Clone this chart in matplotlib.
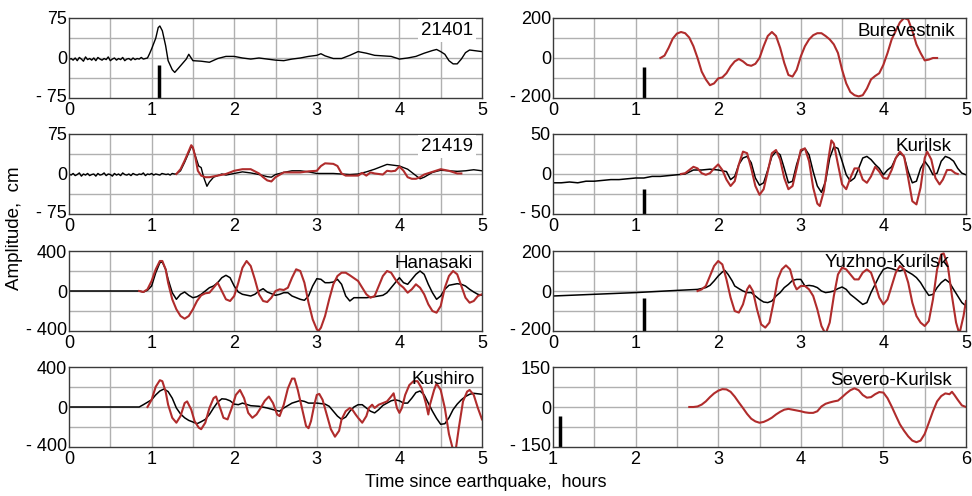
import numpy as np
import matplotlib
matplotlib.use("Agg")
import matplotlib.pyplot as plt

plt.rcParams['font.family'] = ['Liberation Sans', 'DejaVu Sans']

RED = '#b02c2c'

# ---- 21401 (observed only)
t_21401_noise = np.arange(0, 0.951, 0.025)
v_21401_noise = [-3, -1, -4, 0, -5, 1, -2, -6, 2, -3, -1, -4, 0, -5, 1, -2, -4, -1, -3, 2,
                 -5, -2, 0, -4, -1, -3, 1, -5, -2, -1, -4, 0, -3, -1, -2, 1, -2, -1, 0]
t_21401 = [0.975, 1.0, 1.05, 1.08, 1.1, 1.13, 1.17, 1.2, 1.25, 1.28, 1.32, 1.37, 1.42, 1.45,
           1.5, 1.6, 1.7, 1.8, 1.9, 2.0, 2.1, 2.2, 2.3, 2.4, 2.5, 2.6, 2.7, 2.8, 2.9, 3.0,
           3.05, 3.1, 3.2, 3.3, 3.4, 3.5, 3.6, 3.7, 3.8, 3.9, 4.0, 4.1, 4.2, 4.3, 4.4, 4.45,
           4.5, 4.55, 4.6, 4.65, 4.7, 4.75, 4.8, 4.85, 4.9, 5.0]
v_21401 = [8, 17, 37, 57, 60, 51, 23, -5, -22, -27, -20, -11, -2, 7,
           -5, -6, -8, -1, 3, 3, 0, -2, 0, -2, -4, -5, -2, 0, 3, 5,
           8, 4, -1, -1, 5, 12, 9, 5, 4, 3, -2, 0, 3, 9, 14, 16,
           12, 7, -5, -11, -11, -2, 10, 15, 14, 12]

# ---- 21419
t_21419_noise = np.arange(0, 1.301, 0.025)
v_21419_noise = [0, -2, 1, -3, -1, 2, -4, 0, -2, 1, -3, -1, 0, -4, 1, -2, -1, 2, -3, 0,
                 -1, -4, 1, -2, 0, -3, 2, -1, -2, 0, -3, 1, -1, -2, 0, -1, 2, -3, 0, -1,
                 1, -2, 0, -1, -2, 1, 0, -1, 0, -2, 1, 0, 0]
t_21419_obs = [1.35, 1.4, 1.45, 1.48, 1.5, 1.53, 1.57, 1.6, 1.63, 1.67, 1.7, 1.75, 1.8, 1.85,
               1.9, 2.0, 2.1, 2.2, 2.3, 2.4, 2.45, 2.5, 2.6, 2.7, 2.8, 2.9, 3.0, 3.1, 3.2,
               3.3, 3.4, 3.5, 3.6, 3.7, 3.8, 3.85, 3.9, 4.0, 4.1, 4.2, 4.25, 4.3, 4.4, 4.5,
               4.6, 4.7, 4.8, 4.9, 5.0]
v_21419_obs = [6, 22, 40, 51, 49, 34, 15, 12, -6, -23, -15, -6, -3, 0,
               -2, 1, 4, 2, -1, -5, -6, -1, 3, 6, 6, 4, 1, 1, 1,
               0, -1, 0, 4, 9, 15, 18, 17, 15, 9, -3, -9, -6, 3, 7,
               6, 5, 6, 8, 6]
t_21419_mod = [1.3, 1.35, 1.4, 1.45, 1.48, 1.5, 1.53, 1.56, 1.6, 1.65, 1.7, 1.8, 1.9, 2.0,
               2.1, 2.2, 2.3, 2.35, 2.4, 2.45, 2.5, 2.6, 2.7, 2.8, 2.9, 3.0, 3.05, 3.1,
               3.2, 3.25, 3.3, 3.35, 3.4, 3.5, 3.55, 3.6, 3.65, 3.7, 3.8, 3.85, 3.9, 3.95,
               4.0, 4.05, 4.1, 4.15, 4.2, 4.25, 4.3, 4.4, 4.5, 4.6, 4.7, 4.75]
v_21419_mod = [0, 9, 25, 43, 54, 50, 31, 6, -3, -6, -6, -3, 0, 6,
               9, 9, 1, -6, -12, -14, -6, 3, 3, 3, 5, 6, 15, 20,
               19, 15, 1, -3, -3, -3, 2, -3, 3, 1, -1, 6, 5, 6,
               14, 6, -6, -9, -9, -6, -1, 4, 9, 6, 1, 1]

# ---- Hanasaki
t_han_obs = [0, 0.85, 0.9, 0.95, 1.0, 1.05, 1.1, 1.13, 1.17, 1.2, 1.25, 1.3, 1.35, 1.4, 1.45,
             1.5, 1.55, 1.6, 1.7, 1.75, 1.8, 1.85, 1.9, 1.95, 2.0, 2.05, 2.1, 2.2, 2.25, 2.3,
             2.35, 2.4, 2.5, 2.55, 2.6, 2.65, 2.7, 2.8, 2.85, 2.9, 2.95, 3.0, 3.05, 3.1,
             3.15, 3.2, 3.25, 3.3, 3.35, 3.4, 3.45, 3.5, 3.6, 3.7, 3.8, 3.85, 3.9, 3.95,
             4.0, 4.05, 4.1, 4.15, 4.2, 4.25, 4.3, 4.35, 4.4, 4.45, 4.5, 4.55, 4.6, 4.7,
             4.75, 4.8, 4.85, 4.9, 4.95, 5.0]
v_han_obs = [0, 0, -10, 7, 50, 183, 283, 290, 217, 117, -17, -83, -33, -10, -43,
             -67, -57, -33, 33, 50, 83, 133, 157, 133, 50, -10, -33, -50, -33, 0,
             23, -10, -43, -33, -17, -17, -50, -83, -93, -50, 50, 123, 117, 83,
             83, 90, 117, 67, -50, -100, -67, -67, -67, -57, -43, -17, 33, 83,
             133, 83, 67, 117, 167, 200, 167, 67, -17, -83, -50, 17, 57, 73,
             67, 50, 17, -10, -33, -43]
t_han_mod = [0.85, 0.9, 0.95, 1.0, 1.05, 1.1, 1.13, 1.17, 1.2, 1.25, 1.3, 1.35, 1.4, 1.45,
             1.5, 1.55, 1.6, 1.65, 1.7, 1.75, 1.8, 1.85, 1.9, 1.95, 2.0, 2.05, 2.1, 2.15,
             2.2, 2.25, 2.3, 2.35, 2.4, 2.45, 2.5, 2.55, 2.6, 2.65, 2.7, 2.75, 2.8, 2.85,
             2.9, 2.95, 3.0, 3.02, 3.05, 3.1, 3.15, 3.2, 3.25, 3.3, 3.35, 3.4, 3.5, 3.55,
             3.6, 3.65, 3.7, 3.75, 3.8, 3.85, 3.9, 3.95, 4.0, 4.05, 4.1, 4.15, 4.2, 4.25,
             4.3, 4.35, 4.4, 4.45, 4.5, 4.55, 4.6, 4.65, 4.7, 4.75, 4.8, 4.85, 4.9, 4.95, 5.0]
v_han_mod = [0, -10, 17, 100, 217, 300, 300, 217, 83, -83, -183, -250, -277, -250,
             -183, -100, -43, -23, -17, 33, 83, 0, -83, -100, -50, 83, 233, 300,
             250, 117, -33, -100, -110, -67, 0, 17, 10, 33, 133, 217, 200, 83,
             -117, -283, -383, -400, -367, -250, -83, 67, 150, 183, 183, 157, 100, 33,
             -33, -67, -50, 50, 150, 200, 183, 117, 67, 33, -17, 17, 67, 33,
             -33, -133, -200, -217, -150, 33, 150, 200, 167, 50, -67, -117, -100, -50, -33]

# ---- Kushiro
t_kus_obs = [0, 0.85, 0.9, 1.0, 1.05, 1.1, 1.15, 1.2, 1.25, 1.3, 1.35, 1.4, 1.45, 1.5, 1.55,
             1.6, 1.65, 1.7, 1.75, 1.8, 1.85, 1.9, 1.95, 2.0, 2.05, 2.1, 2.2, 2.3, 2.4, 2.5,
             2.55, 2.6, 2.7, 2.8, 2.85, 2.9, 3.0, 3.1, 3.15, 3.2, 3.25, 3.3, 3.35, 3.4,
             3.45, 3.5, 3.55, 3.6, 3.65, 3.7, 3.75, 3.8, 3.85, 3.9, 3.95, 4.0, 4.05, 4.1,
             4.15, 4.2, 4.25, 4.3, 4.35, 4.4, 4.45, 4.5, 4.55, 4.6, 4.65, 4.7, 4.75, 4.8,
             4.85, 4.9, 5.0]
v_kus_obs = [0, 0, 23, 72, 121, 160, 180, 154, 88, -10, -69, -108, -134, -150, -167,
             -147, -124, -75, -10, 49, 82, 78, 62, 29, 23, 39, 13, 7, -10, -33,
             -42, -10, 39, 65, 56, 39, 39, 29, 7, -42, -91, -124, -101, -42,
             0, 23, 23, -10, -42, -59, -26, 16, 39, 62, 72, 62, 39, 39,
             88, 144, 160, 121, 39, -42, -114, -173, -167, -108, -26, 29, 72, 105,
             127, 137, 127]
t_kus_mod = [0.95, 1.0, 1.05, 1.1, 1.13, 1.17, 1.2, 1.25, 1.3, 1.35, 1.4, 1.43, 1.48, 1.52,
             1.57, 1.6, 1.65, 1.7, 1.75, 1.78, 1.83, 1.87, 1.92, 1.97, 2.02, 2.07, 2.12,
             2.17, 2.22, 2.27, 2.32, 2.37, 2.42, 2.47, 2.52, 2.55, 2.6, 2.65, 2.7, 2.73,
             2.77, 2.82, 2.87, 2.9, 2.93, 2.97, 3.0, 3.03, 3.07, 3.12, 3.17, 3.22, 3.27,
             3.3, 3.35, 3.4, 3.43, 3.47, 3.5, 3.55, 3.6, 3.63, 3.67, 3.7, 3.75, 3.8, 3.85,
             3.9, 3.93, 3.97, 4.0, 4.03, 4.07, 4.12, 4.17, 4.22, 4.27, 4.32, 4.35, 4.37,
             4.42, 4.45, 4.5, 4.55, 4.6, 4.65, 4.68, 4.72, 4.77, 4.82, 4.85, 4.9, 4.95, 5.0]
v_kus_mod = [0, 72, 203, 268, 258, 154, 23, -108, -157, -91, 39, 56, -26, -141,
             -206, -222, -157, -10, 88, 105, -10, -108, -124, -10, 121, 170, 88,
             -59, -108, -75, -10, 62, 105, 39, -75, -91, 23, 186, 284, 284,
             170, -10, -190, -212, -141, 23, 121, 131, 72, -75, -222, -297, -238,
             -124, -42, -10, -26, -75, -108, -157, -91, -10, 23, -10, 23, 39, 56,
             105, 137, -10, -59, -10, 121, 219, 258, 258, 186, 39, -75, 23,
             170, 235, 170, -10, -271, -430, -440, -206, 56, 154, 170, 121, -10, -124]

# ---- Burevestnik (model only)
t_bur = [1.3, 1.35, 1.4, 1.45, 1.5, 1.55, 1.6, 1.65, 1.7, 1.75, 1.8, 1.85, 1.9, 1.95, 2.0,
         2.05, 2.1, 2.15, 2.2, 2.25, 2.3, 2.35, 2.4, 2.45, 2.5, 2.55, 2.6, 2.65, 2.7, 2.75,
         2.8, 2.85, 2.9, 2.95, 3.0, 3.05, 3.1, 3.15, 3.2, 3.25, 3.3, 3.35, 3.4, 3.45, 3.5,
         3.55, 3.6, 3.65, 3.7, 3.75, 3.8, 3.85, 3.9, 3.95, 4.0, 4.05, 4.1, 4.15, 4.2, 4.25,
         4.3, 4.35, 4.4, 4.45, 4.5, 4.55, 4.6, 4.65]
v_bur = [0, 12, 51, 97, 122, 130, 124, 102, 59, 0, -68, -107, -136, -127, -102,
         -97, -76, -42, -17, -5, -17, -34, -39, -29, 0, 59, 110, 130, 110, 51,
         -25, -85, -93, -59, 8, 59, 93, 114, 124, 124, 110, 93, 68, 25, -59,
         -127, -170, -186, -192, -186, -153, -107, -90, -76, -34, 25, 93, 136, 178, 200,
         192, 136, 68, 25, -12, -8, 0, 0]

# ---- Kurilsk
t_kur_obs = [0, 0.1, 0.2, 0.3, 0.4, 0.5, 0.6, 0.7, 0.8, 0.9, 1.0, 1.1, 1.2, 1.3, 1.4, 1.5,
             1.6, 1.7, 1.8, 1.9, 2.0, 2.1, 2.15, 2.2, 2.25, 2.3, 2.35, 2.4, 2.45, 2.5, 2.55,
             2.6, 2.65, 2.7, 2.75, 2.8, 2.85, 2.9, 2.95, 3.0, 3.05, 3.1, 3.15, 3.2, 3.25,
             3.3, 3.35, 3.4, 3.45, 3.5, 3.55, 3.6, 3.65, 3.7, 3.75, 3.8, 3.85, 3.9, 3.95,
             4.0, 4.05, 4.1, 4.15, 4.2, 4.25, 4.3, 4.35, 4.4, 4.45, 4.5, 4.55, 4.6, 4.65,
             4.7, 4.75, 4.8, 4.85, 4.9, 4.95, 5.0]
v_kur_obs = [-11, -11, -10, -11, -9, -9, -8, -7, -7, -6, -5, -5, -3, -3, -2, -1,
             0, 5, 5, 6, 5, 3, -7, -3, 12, 20, 22, 14, -5, -14, -11,
             5, 22, 28, 24, 7, -11, -9, 12, 28, 32, 24, 3, -15, -23,
             -9, 20, 34, 32, 16, -1, -9, -5, 7, 20, 22, 18, 12, 7,
             -1, 5, 9, 20, 26, 22, 3, -11, -9, 7, 16, 9, -1, 1,
             16, 22, 20, 16, 7, 1, -1]
t_kur_mod = [1.55, 1.6, 1.65, 1.7, 1.75, 1.8, 1.85, 1.9, 1.95, 2.0, 2.05, 2.1, 2.15, 2.2,
             2.25, 2.3, 2.35, 2.4, 2.45, 2.5, 2.55, 2.6, 2.65, 2.7, 2.75, 2.8, 2.85, 2.9,
             2.95, 3.0, 3.05, 3.1, 3.15, 3.2, 3.23, 3.28, 3.33, 3.37, 3.4, 3.45, 3.5, 3.55,
             3.6, 3.65, 3.7, 3.75, 3.8, 3.85, 3.9, 3.95, 4.0, 4.05, 4.1, 4.15, 4.2, 4.25,
             4.3, 4.35, 4.4, 4.45, 4.5, 4.53, 4.58, 4.63, 4.68, 4.72, 4.77, 4.82, 4.87, 4.9]
v_kur_mod = [0, 1, 5, 9, 7, 1, -1, 1, 7, 12, 5, -7, -15, -9,
             12, 28, 26, 7, -15, -26, -19, 3, 26, 30, 18, -5, -19, -15,
             7, 30, 32, 16, -17, -37, -40, -21, 16, 42, 38, 12, -13, -19,
             -5, 7, 7, -7, -11, -3, 9, 3, -5, -6, 5, 20, 28, 22,
             -5, -34, -38, -17, 20, 28, 18, -5, -13, -7, 5, 5, 1, 0]

# ---- Yuzhno-Kurilsk
t_yuz_obs = [0, 1.0, 1.5, 1.75, 1.85, 1.9, 1.95, 2.0, 2.05, 2.08, 2.12, 2.17, 2.2, 2.25, 2.3,
             2.35, 2.4, 2.45, 2.5, 2.55, 2.6, 2.65, 2.7, 2.75, 2.8, 2.85, 2.9, 2.95, 3.0,
             3.05, 3.1, 3.15, 3.2, 3.25, 3.3, 3.35, 3.4, 3.45, 3.5, 3.55, 3.6, 3.65, 3.7,
             3.75, 3.8, 3.85, 3.9, 3.95, 4.0, 4.05, 4.1, 4.15, 4.2, 4.25, 4.3, 4.35, 4.4,
             4.45, 4.5, 4.55, 4.6, 4.65, 4.7, 4.75, 4.8, 4.85, 4.9, 4.95, 5.0]
v_yuz_obs = [-25, -8, 3, 8, 17, 28, 50, 75, 95, 103, 83, 50, 25, 12, 0,
             -8, -8, -25, -42, -55, -58, -50, -25, -8, 17, 33, 53, 58, 58,
             25, 28, 25, 17, 0, -8, -5, 0, 12, 20, 8, -17, -33, -50,
             -67, -58, -8, 33, 75, 108, 117, 112, 105, 100, 108, 95, 83, 67,
             42, 8, -22, -17, 17, 42, 58, 42, 8, -25, -58, -75]
t_yuz_mod = [1.75, 1.8, 1.85, 1.9, 1.95, 2.0, 2.05, 2.1, 2.15, 2.2, 2.25, 2.3, 2.35, 2.38,
             2.42, 2.47, 2.52, 2.57, 2.62, 2.67, 2.72, 2.77, 2.82, 2.87, 2.92, 2.95, 3.0,
             3.05, 3.1, 3.15, 3.2, 3.25, 3.3, 3.35, 3.4, 3.45, 3.5, 3.55, 3.6, 3.65, 3.7,
             3.75, 3.8, 3.85, 3.9, 3.95, 4.0, 4.05, 4.1, 4.15, 4.2, 4.25, 4.3, 4.35, 4.4,
             4.45, 4.5, 4.55, 4.6, 4.65, 4.7, 4.73, 4.78, 4.83, 4.88, 4.92, 4.97, 5.0]
v_yuz_mod = [0, 8, 25, 75, 125, 150, 133, 58, -33, -100, -108, -67, 8, 28,
             0, -92, -167, -183, -158, -58, 58, 108, 128, 108, 33, 8, 25,
             25, 8, -25, -92, -175, -215, -158, -25, 83, 117, 108, 83, 58, 58,
             92, 108, 92, 33, -33, -67, -42, 25, 92, 125, 108, 42, -58, -125,
             -158, -175, -150, -42, 108, 183, 188, 125, -25, -158, -215, -125, -50]

# ---- Severo-Kurilsk (model only)
t_sev = [2.65, 2.7, 2.75, 2.8, 2.85, 2.9, 2.95, 3.0, 3.05, 3.1, 3.15, 3.2, 3.25, 3.3, 3.35,
         3.4, 3.45, 3.5, 3.55, 3.6, 3.65, 3.7, 3.75, 3.8, 3.85, 3.9, 3.95, 4.0, 4.05, 4.1,
         4.15, 4.2, 4.25, 4.3, 4.35, 4.4, 4.45, 4.5, 4.55, 4.6, 4.65, 4.7, 4.75, 4.8, 4.85,
         4.9, 4.95, 5.0, 5.05, 5.1, 5.15, 5.2, 5.25, 5.3, 5.35, 5.4, 5.45, 5.5, 5.55, 5.6,
         5.65, 5.7, 5.75, 5.8, 5.83, 5.86, 5.9, 5.95, 6.0]
v_sev = [0, 0, 2, 9, 21, 37, 51, 61, 67, 66, 57, 39, 17, -4, -26,
         -44, -54, -59, -56, -49, -40, -28, -18, -10, -7, -10, -13, -16, -20, -22,
         -22, -16, 2, 12, 17, 21, 24, 37, 51, 63, 70, 63, 45, 35, 37,
         48, 56, 54, 33, 2, -32, -65, -89, -110, -126, -132, -126, -101, -59, -16,
         21, 41, 51, 48, 57, 45, 27, 6, 0]

# panel setup
names = ['21401', 'Burevestnik', '21419', 'Kurilsk', 'Hanasaki', 'Yuzhno-Kurilsk',
         'Kushiro', 'Severo-Kurilsk']
ylims = [75, 200, 75, 50, 400, 200, 400, 150]
xranges = [(0, 5), (0, 5), (0, 5), (0, 5), (0, 5), (0, 5), (0, 5), (1, 6)]
obs_t = [None, None, None, t_kur_obs, t_han_obs, t_yuz_obs, t_kus_obs, None]
obs_v = [None, None, None, v_kur_obs, v_han_obs, v_yuz_obs, v_kus_obs, None]
mod_t = [None, t_bur, t_21419_mod, t_kur_mod, t_han_mod, t_yuz_mod, t_kus_mod, t_sev]
mod_v = [None, v_bur, v_21419_mod, v_kur_mod, v_han_mod, v_yuz_mod, v_kus_mod, v_sev]
bar_x = [1.09, 1.1, None, 1.1, None, 1.1, None, 1.09]
bar_top = [-13, -47, None, -19, None, -37, None, -32]
boxed = [True, False, True, False, False, False, False, False]
# label anchor (axes fraction)
lab_x = [0.978, 0.973, 0.978, 0.966, 0.978, 0.959, 0.983, 0.966]
lab_y = [0.84, 0.835, 0.84, 0.84, 0.84, 0.86, 0.85, 0.83]

fig = plt.figure(figsize=(9.72, 4.96), dpi=100)
lefts = [69 / 972, 553 / 972]
bottoms = [1 - 98 / 496, 1 - 214 / 496, 1 - 331 / 496, 1 - 447 / 496]
w = 413 / 972
h = 80 / 496

for i in range(8):
    row, col = i // 2, i % 2
    ax = fig.add_axes([lefts[col], bottoms[row], w, h])
    lim = ylims[i]
    x0, x1 = xranges[i]

    # grid drawn by hand: half hours and quarter ranges
    for gx in np.arange(x0 + 0.5, x1, 0.5):
        ax.axvline(gx, color='#b0b0b0', lw=1.0, zorder=0)
    for gy in [-lim / 2, 0, lim / 2]:
        ax.axhline(gy, color='#b0b0b0', lw=1.0, zorder=0)

    if i == 0:
        ax.plot(list(t_21401_noise) + t_21401, v_21401_noise + v_21401, color='black', lw=1.0)
    elif i == 2:
        ax.plot(list(t_21419_noise) + t_21419_obs, v_21419_noise + v_21419_obs,
                color='black', lw=1.0)
    if obs_t[i] is not None:
        ax.plot(obs_t[i], obs_v[i], color='black', lw=1.1)
    if mod_t[i] is not None:
        ax.plot(mod_t[i], mod_v[i], color=RED, lw=1.5)
    if bar_x[i] is not None:
        ax.plot([bar_x[i], bar_x[i]], [-lim, bar_top[i]], color='black', lw=2.5,
                solid_capstyle='butt')

    ax.set_xlim(x0, x1)
    ax.set_ylim(-lim, lim)
    xt = np.arange(x0, x1 + 0.01, 1.0)
    ax.set_xticks(xt)
    ax.set_xticklabels([str(int(v)) for v in xt])
    # bottom label sits a little above the lower edge, as in the original
    ax.set_yticks([-0.93 * lim, 0, lim])
    ax.set_yticklabels(['- %d' % lim, '0', '%d' % lim])
    ax.tick_params(length=0, labelsize=13)
    ax.tick_params(axis='y', pad=1.5)
    ax.tick_params(axis='x', pad=3)
    for s in ax.spines.values():
        s.set_color('#3a3a3a')
        s.set_linewidth(1.0)

    bbox = dict(facecolor='white', edgecolor='none', pad=2) if boxed[i] else None
    ax.text(lab_x[i], lab_y[i], names[i], transform=ax.transAxes, ha='right', va='center',
            fontsize=13.5, bbox=bbox)

fig.text(0.5, 0.028, 'Time since earthquake,  hours', ha='center', va='center', fontsize=13)
fig.text(0.015, 0.54, 'Amplitude,  cm', ha='center', va='center', rotation=90, fontsize=13.5)

fig.savefig('out.png', dpi=100)
